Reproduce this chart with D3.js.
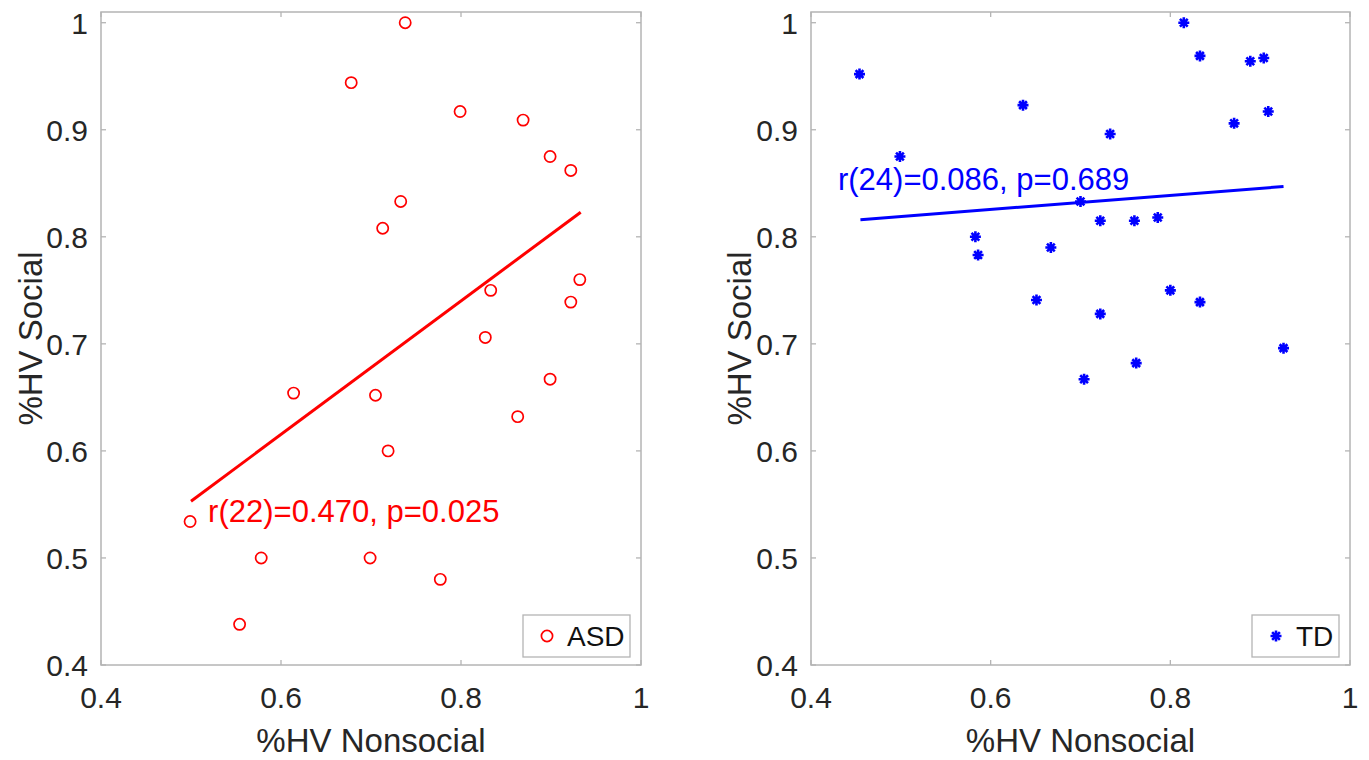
<!DOCTYPE html>
<html>
<head>
<meta charset="utf-8">
<script src="https://cdn.jsdelivr.net/npm/d3@7"></script>
<style>
  html, body { margin: 0; padding: 0; background: #fff; }
  svg { display: block; }
  text { font-family: "Liberation Sans", Arial, sans-serif; }
</style>
</head>
<body>
<svg id="chart" width="1369" height="760"></svg>
<script>
// ---------- data ----------
const xTicks = [0.4, 0.6, 0.8, 1];
const yTicks = [0.4, 0.5, 0.6, 0.7, 0.8, 0.9, 1];
const tickLabel = v => (v === 1 ? "1" : d3.format(".1f")(v));

const asdX = [0.738, 0.678, 0.799, 0.869, 0.899, 0.922, 0.733, 0.713, 0.932, 0.833, 0.922,
              0.827, 0.899, 0.614, 0.705, 0.863, 0.719, 0.499, 0.578, 0.699, 0.777, 0.554];
const asdY = [1.000, 0.944, 0.917, 0.909, 0.875, 0.862, 0.833, 0.808, 0.760, 0.750, 0.739,
              0.706, 0.667, 0.654, 0.652, 0.632, 0.600, 0.534, 0.500, 0.500, 0.480, 0.438];
const asdFitX = [0.500, 0.933];
const asdFitY = [0.553, 0.823];
const asdStat = "r(22)=0.470, p=0.025";
const asdStatPos = [0.519, 0.534];

const tdX = [0.454, 0.499, 0.636, 0.733, 0.815, 0.833, 0.889, 0.904, 0.909, 0.871, 0.700, 0.722,
             0.760, 0.786, 0.583, 0.586, 0.667, 0.651, 0.800, 0.833, 0.722, 0.704, 0.762, 0.926];
const tdY = [0.952, 0.875, 0.923, 0.896, 1.000, 0.969, 0.964, 0.967, 0.917, 0.906, 0.833, 0.815,
             0.815, 0.818, 0.800, 0.783, 0.790, 0.741, 0.750, 0.739, 0.728, 0.667, 0.682, 0.696];
const tdFitX = [0.455, 0.926];
const tdFitY = [0.816, 0.847];
const tdStat = "r(24)=0.086, p=0.689";
const tdStatPos = [0.430, 0.844];

const xLabel = "%HV Nonsocial";
const yLabel = "%HV Social";

// ---------- layout ----------
const svg = d3.select("#chart");
const plotTop = 12, plotBottom = 665;
const panels = [
  { left: 101, right: 641, xs: asdX, ys: asdY, fx: asdFitX, fy: asdFitY, stat: asdStat, statPos: asdStatPos,
    color: "#ff0000", marker: "circle", legend: "ASD", yLabX: 30 },
  { left: 811, right: 1350, xs: tdX, ys: tdY, fx: tdFitX, fy: tdFitY, stat: tdStat, statPos: tdStatPos,
    color: "#0000ff", marker: "star", legend: "TD", yLabX: 739 }
];

const axisGray = "#b4b4b4";
const textCol = "#262626";

function starPath(r) {
  const p = d3.path();
  for (let k = 0; k < 4; k++) {
    const a = k * Math.PI / 4;
    p.moveTo(-r * Math.cos(a), -r * Math.sin(a));
    p.lineTo(r * Math.cos(a), r * Math.sin(a));
  }
  return p.toString();
}

function drawMarker(g, type, color) {
  if (type === "circle") {
    g.append("circle").attr("r", 5.6).attr("fill", "none")
      .attr("stroke", color).attr("stroke-width", 1.7);
  } else {
    g.append("path").attr("d", starPath(5.5)).attr("fill", "none")
      .attr("stroke", color).attr("stroke-width", 2.6);
  }
}

panels.forEach(P => {
  const x = d3.scaleLinear().domain([0.4, 1]).range([P.left, P.right]);
  const y = d3.scaleLinear().domain([0.4, 1.01]).range([plotBottom, plotTop]);
  const g = svg.append("g");

  // box
  g.append("rect").attr("x", P.left).attr("y", plotTop)
    .attr("width", P.right - P.left).attr("height", plotBottom - plotTop)
    .attr("fill", "none").attr("stroke", axisGray).attr("stroke-width", 1.5);

  // ticks (inward, mirrored)
  const tl = 5;
  xTicks.forEach(v => {
    g.append("line").attr("x1", x(v)).attr("x2", x(v)).attr("y1", plotBottom).attr("y2", plotBottom - tl)
      .attr("stroke", axisGray).attr("stroke-width", 1.3);
    g.append("line").attr("x1", x(v)).attr("x2", x(v)).attr("y1", plotTop).attr("y2", plotTop + tl)
      .attr("stroke", axisGray).attr("stroke-width", 1.3);
    g.append("text").attr("x", x(v)).attr("y", 708).attr("text-anchor", "middle")
      .attr("font-size", 30).attr("fill", textCol).text(tickLabel(v));
  });
  yTicks.forEach(v => {
    g.append("line").attr("x1", P.left).attr("x2", P.left + tl).attr("y1", y(v)).attr("y2", y(v))
      .attr("stroke", axisGray).attr("stroke-width", 1.3);
    g.append("line").attr("x1", P.right).attr("x2", P.right - tl).attr("y1", y(v)).attr("y2", y(v))
      .attr("stroke", axisGray).attr("stroke-width", 1.3);
    g.append("text").attr("x", P.left - 13).attr("y", y(v) + 11).attr("text-anchor", "end")
      .attr("font-size", 30).attr("fill", textCol).text(tickLabel(v));
  });

  // axis labels
  g.append("text").attr("x", (P.left + P.right) / 2).attr("y", 752).attr("text-anchor", "middle")
    .attr("font-size", 33).attr("fill", textCol).text(xLabel);
  g.append("text").attr("transform", `translate(${P.yLabX + 12},${(plotTop + plotBottom) / 2}) rotate(-90)`)
    .attr("text-anchor", "middle").attr("font-size", 33).attr("fill", textCol).text(yLabel);

  // fit line
  const line = d3.line().x(d => x(d[0])).y(d => y(d[1]));
  g.append("path").attr("d", line(d3.zip(P.fx, P.fy)))
    .attr("fill", "none").attr("stroke", P.color).attr("stroke-width", 3);

  // points
  d3.zip(P.xs, P.ys).forEach(([a, b]) => {
    const m = g.append("g").attr("transform", `translate(${x(a)},${y(b)})`);
    drawMarker(m, P.marker, P.color);
  });

  // stat text
  g.append("text").attr("x", x(P.statPos[0])).attr("y", y(P.statPos[1]))
    .attr("font-size", 31).attr("fill", P.color).text(P.stat);

  // legend
  const lw = P.legend === "ASD" ? 107 : 87;
  const lx = P.right - 11 - lw, ly = 615, lh = 42;
  g.append("rect").attr("x", lx).attr("y", ly).attr("width", lw).attr("height", lh)
    .attr("fill", "#fff").attr("stroke", axisGray).attr("stroke-width", 1.3);
  const lm = g.append("g").attr("transform", `translate(${lx + 24},${ly + 21})`);
  drawMarker(lm, P.marker, P.color);
  g.append("text").attr("x", lx + 44).attr("y", ly + 31).attr("font-size", 28)
    .attr("fill", "#111").text(P.legend);
});
</script>
</body>
</html>
